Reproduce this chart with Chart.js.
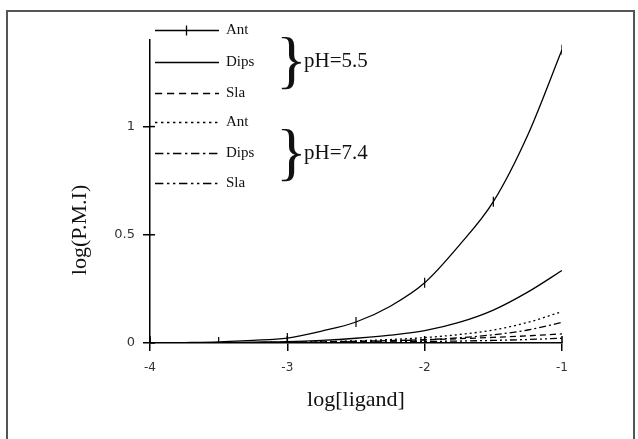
<!DOCTYPE html>
<html>
<head>
<meta charset="utf-8">
<script src="https://cdn.jsdelivr.net/npm/chart.js@4"></script>
<style>
  html, body { margin: 0; padding: 0; background: #fff; }
  #wrap { width: 638px; height: 439px; position: relative; }
</style>
</head>
<body>
<div id="wrap"><canvas id="chart" width="638" height="439"></canvas></div>
<script>
// log[ligand] values
const xValues = [-4, -3.75, -3.5, -3.25, -3, -2.75, -2.5, -2.25, -2, -1.75, -1.5, -1.25, -1];
const xTicks = [-4, -3, -2, -1];
const yTicks = [0, 0.5, 1];

// log(P.M.I)
const antPH55  = [0, 0.002, 0.005, 0.012, 0.023, 0.055, 0.097, 0.170, 0.278, 0.450, 0.653, 0.960, 1.355];
const dipsPH55 = [0, 0.001, 0.002, 0.004, 0.006, 0.012, 0.022, 0.036, 0.057, 0.095, 0.152, 0.235, 0.335];
const slaPH55  = [0, 0, 0.001, 0.002, 0.003, 0.005, 0.008, 0.011, 0.015, 0.020, 0.026, 0.033, 0.042];
const antPH74  = [0, 0, 0.001, 0.002, 0.003, 0.006, 0.010, 0.016, 0.025, 0.039, 0.060, 0.095, 0.145];
const dipsPH74 = [0, 0, 0.001, 0.001, 0.002, 0.004, 0.006, 0.010, 0.015, 0.024, 0.038, 0.060, 0.095];
const slaPH74  = [0, 0, 0, 0.001, 0.001, 0.002, 0.003, 0.005, 0.007, 0.009, 0.012, 0.016, 0.022];

const legendNames = ["Ant", "Dips", "Sla", "Ant", "Dips", "Sla"];
const groupLabels = ["pH=5.5", "pH=7.4"];

const dashes = {
  solid: [],
  dashed: [6, 4],
  dotted: [2, 3],
  dashDot: [7, 3, 2, 3],
  dashDotDot: [7, 3, 2, 3, 2, 3]
};

const toPoints = (ys) => ys.map((y, i) => ({ x: xValues[i], y: y }));

const series = [
  { label: "Ant", data: antPH55, dash: dashes.solid, marker: true },
  { label: "Dips", data: dipsPH55, dash: dashes.solid },
  { label: "Sla", data: slaPH55, dash: dashes.dashed },
  { label: "Ant", data: antPH74, dash: dashes.dotted },
  { label: "Dips", data: dipsPH74, dash: dashes.dashDot },
  { label: "Sla", data: slaPH74, dash: dashes.dashDotDot }
];

// frame, hand legend with braces, axis titles
const decorations = {
  id: "decorations",
  beforeDraw(chart) {
    const ctx = chart.ctx;
    ctx.save();
    ctx.fillStyle = "#fff";
    ctx.fillRect(0, 0, chart.width, chart.height);
    ctx.strokeStyle = "#555";
    ctx.lineWidth = 2;
    ctx.strokeRect(7, 11, 627, 440);
    ctx.restore();
  },
  afterDraw(chart) {
    const ctx = chart.ctx;
    const xs = chart.scales.x, ys = chart.scales.y;
    ctx.save();
    ctx.fillStyle = "#111";
    ctx.strokeStyle = "#000";

    // tick marks poke inside the axes too
    ctx.lineWidth = 1.5;
    xTicks.forEach(v => {
      const px = xs.getPixelForValue(v);
      ctx.beginPath();
      ctx.moveTo(px, ys.bottom);
      ctx.lineTo(px, ys.bottom - 7);
      ctx.stroke();
    });
    yTicks.forEach(v => {
      const py = ys.getPixelForValue(v);
      ctx.beginPath();
      ctx.moveTo(xs.left, py);
      ctx.lineTo(xs.left + 5, py);
      ctx.stroke();
    });

    // legend rows
    const rowY = [30.5, 62.5, 93.5, 122.5, 153.5, 183.5];
    series.forEach((s, i) => {
      const y = rowY[i];
      ctx.lineWidth = 1.3;
      ctx.setLineDash(s.dash.map(d => d * 1.2));
      ctx.beginPath();
      ctx.moveTo(155, y);
      ctx.lineTo(219, y);
      ctx.stroke();
      ctx.setLineDash([]);
      if (s.marker) {
        ctx.beginPath();
        ctx.moveTo(186.5, y - 5);
        ctx.lineTo(186.5, y + 5);
        ctx.stroke();
      }
      ctx.font = "15px 'Liberation Serif'";
      ctx.textAlign = "left";
      ctx.textBaseline = "middle";
      ctx.fillText(legendNames[i], 226, y);
    });

    // braces + group labels
    [[61, groupLabels[0]], [153, groupLabels[1]]].forEach(([cy, txt]) => {
      ctx.font = "64px 'Liberation Serif'";
      ctx.textAlign = "left";
      ctx.textBaseline = "middle";
      ctx.fillText("}", 276, cy + 3);
      ctx.font = "21px 'Liberation Serif'";
      ctx.fillText(txt, 304, cy);
    });

    // axis titles
    ctx.font = "22px 'Liberation Serif'";
    ctx.textAlign = "center";
    ctx.textBaseline = "middle";
    ctx.fillText("log[ligand]", 356, 400);
    ctx.translate(80, 230);
    ctx.rotate(-Math.PI / 2);
    ctx.fillText("log(P.M.I)", 0, 0);
    ctx.restore();
  }
};

new Chart(document.getElementById("chart"), {
  type: "line",
  data: {
    datasets: series.map(s => ({
      label: s.label,
      data: toPoints(s.data),
      borderColor: "#000",
      borderWidth: 1.3,
      borderDash: s.dash,
      fill: false,
      cubicInterpolationMode: "monotone",
      pointStyle: "line",
      rotation: 90,
      // markers only on the half-unit points
      pointRadius: s.marker ? xValues.map(x => (Number.isInteger(x * 2) ? 5 : 0)) : 0,
      pointBorderColor: "#000",
      pointBorderWidth: 1.2
    }))
  },
  options: {
    responsive: false,
    animation: false,
    layout: { padding: { left: 0, top: 40, right: 76, bottom: 0 } },
    plugins: { legend: { display: false }, tooltip: { enabled: false } },
    scales: {
      x: {
        type: "linear",
        min: -4,
        max: -1,
        afterBuildTicks: (axis) => { axis.ticks = xTicks.map(v => ({ value: v })); },
        afterFit: (axis) => { axis.height = 96; },
        border: { color: "#000", width: 1.5 },
        grid: { drawOnChartArea: false, tickLength: 8, color: "#000", lineWidth: 1.5 },
        ticks: { color: "#333", font: { family: "DejaVu Sans", size: 12 }, padding: 10, maxRotation: 0,
                 callback: (v) => String(v) }
      },
      y: {
        type: "linear",
        min: 0,
        max: 1.4,
        afterBuildTicks: (axis) => { axis.ticks = yTicks.map(v => ({ value: v })); },
        afterFit: (axis) => { axis.width = 150; },
        border: { color: "#000", width: 1.5 },
        grid: { drawOnChartArea: false, tickLength: 7, color: "#000", lineWidth: 1.5 },
        ticks: { color: "#333", font: { family: "DejaVu Sans", size: 13 }, padding: 8,
                 callback: (v) => String(v) }
      }
    }
  },
  plugins: [decorations]
});
</script>
</body>
</html>
